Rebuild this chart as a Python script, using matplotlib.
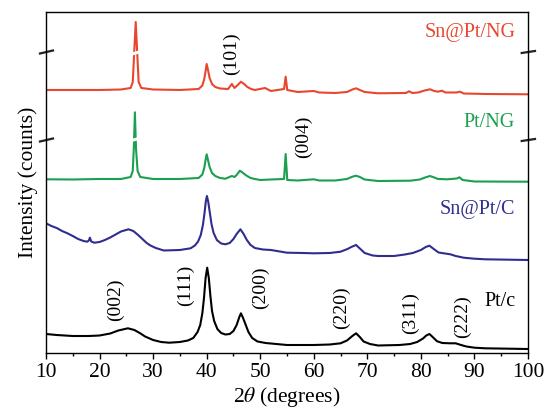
import matplotlib
matplotlib.use("Agg")
from matplotlib import pyplot as plt
import matplotlib.transforms as mtransforms

# XRD patterns (2theta in degrees, intensity in arbitrary units)
sn_pt_ng_x = [10, 15, 20, 24, 25.8, 26.2, 26.45, 26.75, 27.05, 27.3, 27.8, 30, 35, 38.5, 39.2, 39.55, 39.8,
              40.0, 40.25, 40.55, 41.0, 41.6, 42.5, 44, 44.7, 45.2, 45.8, 46.4, 47.0, 47.6, 48.3, 49, 50.9,
              52, 54.45, 54.75, 55.05, 57, 60, 61, 64, 66.2, 67.2, 67.9, 68.6, 69.5, 72, 77.2, 77.8, 78.4,
              79.5, 80.7, 81.7, 82.5, 83.2, 83.9, 84.6, 86.6, 87.3, 88, 92, 100]
sn_pt_ng_y = [263, 263, 263, 263.5, 265, 271, 298, 331, 298, 271, 265, 263.5, 263, 264, 267.5, 274, 282,
              289, 283, 275, 269, 266, 264.5, 264, 269, 265, 268, 271.3, 269, 266, 264, 263, 265,
              262, 264, 276.3, 263, 261, 262, 260.5, 260, 261, 263.5, 264.7, 263, 261, 259.7, 260, 261.7, 260,
              260.5, 262.5, 263.7, 262, 261.3, 262.3, 260.5, 260.5, 261.3, 259.5, 259, 258.7]

pt_ng_x = [10, 15, 20, 24, 25.8, 26.2, 26.4, 26.6, 26.8, 27.1, 27.6, 30, 35, 38.5, 39.2, 39.55, 39.8, 40.0,
           40.25, 40.55, 41.0, 41.6, 42.5, 43.5, 44.7, 45.2, 45.6, 46.2, 46.8, 47.4, 48.2, 49, 50, 52, 54.45,
           54.75, 55.05, 57, 60, 61, 64, 66.2, 67.2, 67.9, 68.6, 69.5, 72, 78, 79.8, 80.8, 81.7, 82.5, 83.2,
           85, 86.7, 87.2, 87.8, 90, 100]
pt_ng_y = [173.7, 173.5, 174, 174, 176, 182, 205, 240.7, 205, 182, 176, 174, 174, 175, 178.5, 185, 193, 198.7,
           193, 186, 180, 177, 175, 174.3, 177, 176, 178, 182.3, 180, 177.5, 175, 174, 173, 173.5, 174,
           199, 173, 172.5, 173.7, 172.5, 172.5, 174, 176.3, 177.3, 176, 173.5, 172, 172.3, 173.5, 175.5, 177,
           175.5, 174, 173.7, 174.5, 175.7, 173, 171.5, 171.3]

sn_pt_c_x = [10, 11, 12, 13, 14, 15, 16, 17, 17.7, 18.0, 18.2, 18.45, 19, 20, 21, 22, 23, 24, 25.4, 26.3,
             27.2, 28, 28.8, 29.5, 30.5, 32, 35, 37, 37.8, 38.4, 38.9, 39.3, 39.6, 39.85, 40.05, 40.3, 40.6,
             40.9, 41.3, 41.9, 42.7, 43.5, 44.3, 45.0, 45.6, 46.3, 46.9, 47.5, 48.2, 49, 50.5, 52, 55, 58,
             60, 63, 65, 66.3, 67.2, 67.9, 68.6, 69.5, 71, 72, 75, 77, 78.5, 80, 80.9, 81.6, 82.4, 83.3, 84.5,
             85.5, 86.5, 88, 90, 92, 100]
sn_pt_c_y = [129.7, 127, 125, 122, 119.7, 117, 114, 112, 111.3, 112.5, 115.3, 111.5, 110.3, 111, 113, 115.5,
             118.5, 121.5, 123.7, 122, 118, 114, 110, 107.5, 105, 102.5, 103, 104.7, 107.5, 111.5, 118, 128,
             140, 152, 157, 151, 140, 129, 120, 113, 109.5, 108.7, 110, 114, 119, 123.7, 119, 113, 108, 105,
             103.5, 103, 100.3, 100, 99.7, 100, 101.3, 104, 106.5, 108, 104.5, 100, 97.5, 97, 97, 98.5, 100,
             103, 106, 107.3, 104, 100.5, 99.5, 98.7, 97, 95.3, 94.3, 93.7, 93]

pt_c_x = [10, 12, 15, 18, 20, 22, 23.5, 25.3, 26.5, 27.5, 28.5, 30, 31.5, 33, 35, 36.5, 37.5, 38.3, 38.8,
          39.2, 39.5, 39.8, 40.1, 40.4, 40.7, 41.0, 41.4, 42, 42.7, 43.5, 44.3, 45, 45.6, 46.1, 46.4, 46.8,
          47.3, 47.8, 48.5, 49.5, 51, 53, 55, 60, 63, 65, 66.2, 67.2, 67.9, 68.6, 69.3, 70.5, 72, 76, 78,
          79.3, 80.4, 81.0, 81.6, 82.3, 83.0, 84, 85.5, 86.5, 87.5, 88.5, 90, 92, 100]
pt_c_y = [19, 18, 17, 17, 17.5, 19.5, 22.5, 24.7, 23, 20, 16.5, 13, 11, 10.3, 11, 12.5, 15, 21, 28,
          40, 55, 75, 85.3, 75, 57, 42, 32, 24, 20, 18.5, 19, 22, 28, 36, 39.7, 35,
          28, 21, 15, 11.5, 10, 9, 8, 8, 8.5, 9.7, 12.5, 17, 19.7, 16, 11.5, 9, 7.5, 8, 9,
          11, 14.5, 17.5, 19, 15.5, 11.8, 10, 9.7, 9.7, 8, 6.5, 5.3, 4.7, 4]

# (hkl) labels: text, 2theta, height
hkl_labels = ["(101)", "(004)", "(002)", "(111)", "(200)", "(220)", "(311)", "(222)"]
hkl_x = [44.6, 58.0, 22.9, 36.0, 50.0, 65.1, 78.1, 87.7]
hkl_y = [299.5, 216.5, 53, 68, 65, 45.3, 39.7, 36.7]

names = ["Sn@Pt/NG", "Pt/NG", "Sn@Pt/C", "Pt/c"]
colors = ["#e8472e", "#1aa04e", "#302d8f", "black"]
name_y = [320, 230.3, 143, 51.3]

plt.rcParams['font.family'] = ['Liberation Serif', 'DejaVu Serif']
plt.rcParams['mathtext.fontset'] = 'stix'

fig = plt.figure(figsize=(5.45, 4.12), dpi=100)
ax = fig.add_axes([0.0844, 0.1432, 0.8844, 0.8277])

series = [(sn_pt_ng_x, sn_pt_ng_y), (pt_ng_x, pt_ng_y), (sn_pt_c_x, sn_pt_c_y), (pt_c_x, pt_c_y)]
for (xs, ys), c in zip(series, colors):
    ax.plot(xs, ys, color=c, lw=1.5)

for name, c, yy in zip(names, colors, name_y):
    ax.text(97.6, yy, name, color=c, fontsize=14.5, ha="right", va="center")

for lab, xx, yy in zip(hkl_labels, hkl_x, hkl_y):
    ax.text(xx, yy, lab, rotation=90, fontsize=14, ha="center", va="center")

# breaks through the tall graphite peaks
ax.plot([26.1, 27.4], [299, 301], color="white", lw=2.2, zorder=5)
ax.plot([26.0, 27.3], [212.5, 214.5], color="white", lw=2.2, zorder=5)

# axis break marks
trans = mtransforms.blended_transform_factory(ax.transAxes, ax.transData)
for yb in [301, 213]:
    ax.plot([-0.0125, 0.0145], [yb - 1.5, yb + 1.5], color="#222222", lw=1.6, transform=trans, clip_on=False)
    ax.plot([0.987, 1.0145], [yb - 1.0, yb + 1.0], color="#222222", lw=1.6, transform=trans, clip_on=False)

ax.set_xlim(10, 100)
ax.set_ylim(0, 341)
ax.set_xticks(range(10, 101, 10))
ax.set_xticks(range(15, 100, 10), minor=True)
ax.set_yticks([])
ax.tick_params(axis="x", which="major", direction="out", length=4, width=1, labelsize=15.5, pad=3)
ax.tick_params(axis="x", which="minor", direction="out", length=2.5, width=1)
for s in ax.spines.values():
    s.set_linewidth(1.0)

ax.set_xlabel(r"2$\mathit{\theta}$ (degrees)", fontsize=15.5, labelpad=2)
ax.set_ylabel("Intensity (counts)", fontsize=15.5, labelpad=6)

fig.savefig("out.png", dpi=100)
